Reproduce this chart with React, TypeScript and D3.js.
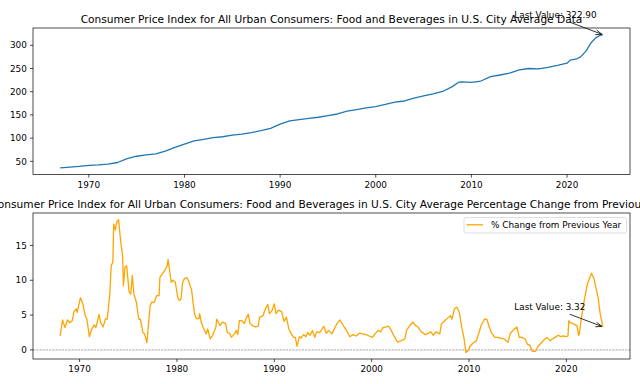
import React from "react"
import * as d3 from "d3"

// CPI food & beverages index level
const cpiDates = [
  "1967-01", "1968-01", "1969-01", "1970-01", "1971-01", "1972-01", "1973-01", "1974-01",
  "1975-01", "1976-01", "1977-01", "1978-01", "1979-01", "1980-01", "1981-01", "1982-01",
  "1983-01", "1984-01", "1985-01", "1986-01", "1987-01", "1988-01", "1989-01", "1990-01",
  "1991-01", "1992-01", "1993-01", "1994-01", "1995-01", "1996-01", "1997-01", "1998-01",
  "1999-01", "2000-01", "2001-01", "2002-01", "2003-01", "2004-01", "2005-01", "2006-01",
  "2007-01", "2008-01", "2008-09", "2009-01", "2010-01", "2011-01", "2012-01", "2013-01",
  "2014-01", "2015-01", "2016-01", "2017-01", "2018-01", "2019-01", "2020-01", "2020-05",
  "2021-01", "2021-06", "2022-01", "2022-07", "2023-01", "2023-06", "2023-10",
]
const cpiValues = [
  36, 37.5, 39, 41.5, 42.5, 44, 47.5, 56,
  61, 64, 66, 72, 80, 87, 94, 97.5,
  101, 103, 106.5, 108.5, 112, 116, 121, 130,
  137, 140, 142.5, 145, 148.5, 152, 158, 161.5,
  165, 168, 172.5, 177.5, 180, 186, 191, 195.5,
  200.5, 211, 220.5, 221, 220, 223, 232.5, 236,
  240, 247, 250, 249, 252.5, 256.5, 261.5, 268,
  270.5, 275, 288, 305, 316, 321, 322.9,
]

// year-over-year % change
const pctDates = [
  "1968-01", "1968-04", "1968-07", "1968-10", "1969-01", "1969-04", "1969-06", "1969-09", "1969-10",
  "1970-02", "1970-05", "1970-08", "1970-10", "1971-01", "1971-04", "1971-07", "1971-09",
  "1972-01", "1972-03", "1972-06", "1972-09", "1972-11", "1973-02", "1973-04", "1973-06",
  "1973-07", "1973-09", "1973-11", "1974-01", "1974-04", "1974-06", "1974-07", "1974-09",
  "1974-11", "1975-02", "1975-04", "1975-06", "1975-08", "1975-11", "1976-02", "1976-04",
  "1976-07", "1976-09", "1976-12", "1977-02", "1977-04", "1977-06", "1977-09", "1977-12",
  "1978-03", "1978-04", "1978-07", "1978-10", "1979-01", "1979-02", "1979-04", "1979-06",
  "1979-08", "1979-11", "1980-02", "1980-04", "1980-06", "1980-08", "1980-10", "1981-01",
  "1981-03", "1981-06", "1981-07", "1981-09", "1981-11", "1982-01", "1982-04", "1982-05",
  "1982-07", "1982-09", "1983-01", "1983-03", "1983-06", "1983-09", "1984-01", "1984-02",
  "1984-06", "1984-09", "1985-01", "1985-03", "1985-06", "1985-08", "1985-12", "1986-02",
  "1986-04", "1986-06", "1986-09", "1986-12", "1987-02", "1987-05", "1987-07", "1987-10",
  "1988-02", "1988-05", "1988-07", "1988-11", "1989-02", "1989-05", "1989-07", "1989-10",
  "1990-01", "1990-03", "1990-06", "1990-10", "1991-01", "1991-04", "1991-07", "1991-10",
  "1992-01", "1992-03", "1992-05", "1992-08", "1992-10", "1993-01", "1993-04", "1993-06",
  "1993-09", "1993-12", "1994-03", "1994-05", "1994-09", "1995-02", "1995-05", "1995-08",
  "1995-12", "1996-03", "1996-06", "1996-10", "1997-02", "1997-06", "1997-10", "1998-02",
  "1998-06", "1998-10", "1999-02", "1999-06", "1999-10", "2000-02", "2000-05", "2000-09",
  "2000-12", "2001-03", "2001-07", "2001-10", "2002-01", "2002-05", "2002-09", "2003-01",
  "2003-06", "2003-08", "2003-12", "2004-04", "2004-07", "2004-10", "2005-02", "2005-07",
  "2005-11", "2006-02", "2006-05", "2006-08", "2007-01", "2007-03", "2007-07", "2007-11",
  "2008-02", "2008-04", "2008-07", "2008-10", "2009-01", "2009-04", "2009-07", "2009-09",
  "2009-12", "2010-02", "2010-06", "2010-10", "2011-01", "2011-04", "2011-08", "2011-11",
  "2012-02", "2012-05", "2012-09", "2012-12", "2013-04", "2013-08", "2014-01", "2014-04",
  "2014-08", "2014-12", "2015-03", "2015-06", "2015-10", "2016-01", "2016-04", "2016-07",
  "2016-11", "2017-02", "2017-06", "2017-10", "2018-01", "2018-05", "2018-08", "2018-11",
  "2019-03", "2019-06", "2019-09", "2020-01", "2020-03", "2020-04", "2020-06", "2020-09",
  "2020-12", "2021-02", "2021-04", "2021-05", "2021-07", "2021-11", "2022-03", "2022-08",
  "2022-11", "2023-04", "2023-07", "2023-10",
]
const pctValues = [
  2.0, 4.3, 3.2, 4.3, 3.9, 4.2, 5.5, 5.9, 5.4,
  7.5, 6.6, 4.9, 4.4, 1.9, 3.0, 3.6, 3.2,
  5.1, 3.9, 3.3, 4.5, 4.4, 7.8, 12.1, 12.6,
  18.1, 17.2, 18.4, 18.7, 15.2, 13.6, 9.2, 11.9,
  12.1, 8.3, 8.0, 10.7, 8.0, 6.8, 4.4, 4.4,
  2.5, 2.3, 1.05, 3.9, 6.3, 6.9, 6.8, 7.8,
  7.8, 10.4, 10.9, 11.4, 12.1, 13.0, 11.4, 9.7,
  10.0, 9.7, 7.5, 7.1, 7.3, 9.7, 10.2, 10.4,
  10.0, 9.0, 8.7, 6.6, 5.0, 4.5, 4.5, 5.2,
  4.0, 3.3, 2.3, 3.0, 1.6, 2.1, 3.3, 4.4,
  3.5, 4.0, 3.8, 2.5, 2.4, 1.8, 2.3, 2.8,
  2.2, 4.2, 4.2, 3.8, 4.5, 5.1, 3.8, 3.5,
  3.3, 3.4, 4.7, 4.9, 5.9, 6.5, 5.2, 5.6,
  6.6, 5.2, 5.7, 5.5, 4.1, 4.7, 3.0, 2.3,
  1.8, 1.8, 0.5, 1.9, 1.7, 2.2, 1.9, 2.5,
  2.1, 2.8, 1.8, 2.6, 2.5, 3.4, 2.4, 2.8,
  2.3, 3.0, 3.75, 4.3, 3.5, 2.8, 1.9, 2.2,
  2.0, 2.4, 2.3, 2.2, 2.0, 1.8, 2.3, 2.8,
  2.6, 3.2, 3.3, 3.4, 2.8, 1.9, 1.1, 1.3,
  1.6, 2.8, 3.5, 4.0, 3.5, 3.3, 2.6, 2.2,
  2.4, 2.6, 2.1, 2.6, 2.3, 3.75, 4.2, 4.6,
  4.9, 4.4, 5.9, 6.15, 5.4, 3.3, 1.6, -0.35,
  -0.1, 0.5, 1.0, 1.3, 2.4, 3.5, 4.4, 4.4,
  3.3, 2.4, 1.8, 1.8, 1.7, 1.6, 1.1, 2.4,
  2.9, 3.3, 1.8, 1.8, 1.6, 0.8, 0.7, -0.2,
  -0.2, 0.5, 1.0, 1.5, 1.8, 1.3, 1.6, 1.8,
  2.1, 1.9, 2.0, 1.9, 2.0, 4.2, 3.9, 3.8,
  3.6, 3.5, 2.1, 2.3, 4.2, 7.1, 9.5, 11.0,
  10.2, 7.6, 5.0, 3.32,
]

const xTickYears = [1970, 1980, 1990, 2000, 2010, 2020]
const cpiTicks = [50, 100, 150, 200, 250, 300]
const pctTicks = [0, 5, 10, 15]

const topTitle = "Consumer Price Index for All Urban Consumers: Food and Beverages in U.S. City Average Data"
const bottomTitle =
  "Consumer Price Index for All Urban Consumers: Food and Beverages in U.S. City Average Percentage Change from Previous Year"
const legendLabel = "% Change from Previous Year"

const W = 640
const H = 384
const FONT = "'DejaVu Sans', sans-serif"
const TICK_FS = 8.85
const TITLE_FS = 10.62
const parse = d3.timeParse("%Y-%m")

// matplotlib-like limits: data extent padded by 5%
const padTime = (ds: Date[]) => {
  const [a, b] = d3.extent(ds) as [Date, Date]
  const p = (b.getTime() - a.getTime()) * 0.05
  return [new Date(a.getTime() - p), new Date(b.getTime() + p)]
}
const padVal = (vs: number[]) => {
  const [a, b] = d3.extent(vs) as [number, number]
  const p = (b - a) * 0.05
  return [a - p, b + p]
}

type PanelProps = {
  dates: Date[]
  values: number[]
  yTicks: number[]
  top: number
  bottom: number
  color: string
  title: string
  zeroLine?: boolean
  legend?: boolean
  lastLabel: string
}

const Panel = ({ dates, values, yTicks, top, bottom, color, title, zeroLine, legend, lastLabel }: PanelProps) => {
  const left = 33
  const right = 630
  const x = d3.scaleTime().domain(padTime(dates)).range([left, right])
  const y = d3.scaleLinear().domain(padVal(values)).range([bottom, top])
  const line = d3
    .line<number>()
    .x((_, i) => x(dates[i]))
    .y((d) => y(d))
  const lx = x(dates[dates.length - 1])
  const ly = y(values[values.length - 1])
  // arrow from text towards the last point
  const ax = lx - 33
  const ay = ly - 12.5
  const tx = lx - 1
  const ty = ly - 0.4

  return (
    <g style={{ fontFamily: FONT }}>
      <text x={(left + right) / 2} y={top - 5.5} textAnchor="middle" fontSize={TITLE_FS} fill="#000">
        {title}
      </text>
      {zeroLine && (
        <line x1={left} x2={right} y1={y(0)} y2={y(0)} stroke="#808080" strokeWidth={0.7} strokeDasharray="2.2,1" />
      )}
      <path d={line(values) || ""} fill="none" stroke={color} strokeWidth={1.3} strokeLinejoin="round" />
      <rect x={left} y={top} width={right - left} height={bottom - top} fill="none" stroke="#000" strokeWidth={0.7} />
      {xTickYears.map((yr) => {
        const px = x(new Date(yr, 0, 1))
        return (
          <g key={yr}>
            <line x1={px} x2={px} y1={bottom} y2={bottom + 3.1} stroke="#000" strokeWidth={0.7} />
            <text x={px} y={bottom + 13.3} textAnchor="middle" fontSize={TICK_FS} fill="#000">
              {yr}
            </text>
          </g>
        )
      })}
      {yTicks.map((t) => (
        <g key={t}>
          <line x1={left - 3.1} x2={left} y1={y(t)} y2={y(t)} stroke="#000" strokeWidth={0.7} />
          <text x={left - 6.2} y={y(t) + 3.2} textAnchor="end" fontSize={TICK_FS} fill="#000">
            {t}
          </text>
        </g>
      ))}
      {legend && (
        <g>
          <rect x={464} y={217.5} width={162.5} height={15.5} rx={2} fill="#fff" fillOpacity={0.8} stroke="#d0d0d0" strokeWidth={0.7} />
          <line x1={466.5} x2={483} y1={224.8} y2={224.8} stroke={color} strokeWidth={1.3} />
          <text x={491} y={228.2} fontSize={TICK_FS} fill="#000">
            {legendLabel}
          </text>
        </g>
      )}
      <text x={lx - 88.5} y={ly - 16.8} fontSize={TICK_FS} fill="#000">
        {lastLabel}
      </text>
      <line x1={ax} y1={ay} x2={tx} y2={ty} stroke="#000" strokeWidth={0.8} />
      <path
        d={`M${tx - 5.3},${ty - 4.2}L${tx},${ty}L${tx - 6.6},${ty + 0.4}`}
        fill="none"
        stroke="#000"
        strokeWidth={0.8}
      />
    </g>
  )
}

export default function App() {
  const cDates = cpiDates.map((d) => parse(d) as Date)
  const pDates = pctDates.map((d) => parse(d) as Date)
  return (
    <svg width={W} height={H} style={{ position: "absolute", left: 0, top: 0, background: "#fff" }}>
      <rect width={W} height={H} fill="#fff" />
      <Panel
        dates={cDates}
        values={cpiValues}
        yTicks={cpiTicks}
        top={28}
        bottom={174.5}
        color="#1f77b4"
        title={topTitle}
        lastLabel={`Last Value: ${cpiValues[cpiValues.length - 1].toFixed(2)}`}
      />
      <Panel
        dates={pDates}
        values={pctValues}
        yTicks={pctTicks}
        top={213}
        bottom={359}
        color="orange"
        title={bottomTitle}
        zeroLine
        legend
        lastLabel={`Last Value: ${pctValues[pctValues.length - 1].toFixed(2)}`}
      />
    </svg>
  )
}
